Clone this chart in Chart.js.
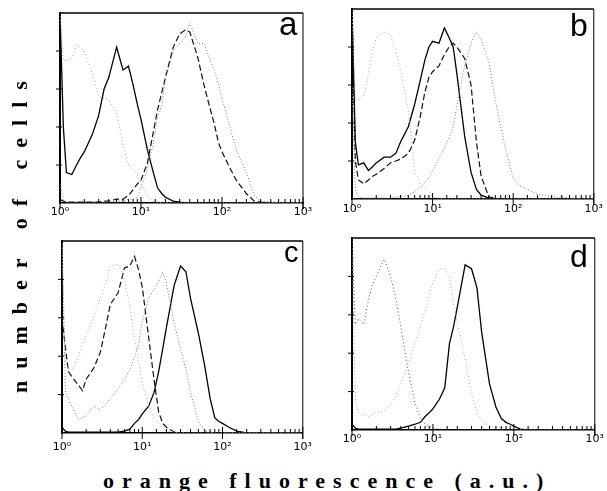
<!DOCTYPE html>
<html>
<head>
<meta charset="utf-8">
<script src="https://cdn.jsdelivr.net/npm/chart.js@4.4.0/dist/chart.umd.min.js"></script>
<style>
  html, body { margin: 0; padding: 0; background: #fff; }
  #wrap { position: relative; width: 607px; height: 491px; overflow: hidden; }
  canvas { position: absolute; }
  .letter { position: absolute; font-family: "Liberation Sans", Arial, sans-serif; line-height: 1; color: #000; }
  #ylab, #xlab {
    position: absolute; white-space: nowrap; color: #000;
    font-family: "Liberation Serif", "Times New Roman", serif; font-weight: bold;
    font-size: 22px; line-height: 22px;
  }
  #xlab { left: 103px; top: 470px; letter-spacing: 8px; }
  #ylab { left: 9px; top: 393px; letter-spacing: 12px; transform-origin: 0 0; transform: rotate(-90deg); }
</style>
</head>
<body>
<div id="wrap">
  <canvas id="pa" width="320" height="232" style="left:0;top:0"></canvas>
  <canvas id="pb" width="287" height="232" style="left:320px;top:0"></canvas>
  <canvas id="pc" width="320" height="228" style="left:0;top:232px"></canvas>
  <canvas id="pd" width="287" height="228" style="left:320px;top:232px"></canvas>
  <div class="letter" style="left:279px;top:7px;font-size:33px">a</div>
  <div class="letter" style="left:570px;top:9px;font-size:32px">b</div>
  <div class="letter" style="left:284px;top:238px;font-size:29px">c</div>
  <div class="letter" style="left:570px;top:240px;font-size:32px">d</div>
  <div id="ylab">number of cells</div>
  <div id="xlab">orange fluorescence (a.u.)</div>
</div>
<script>
// fluorescence channels (a.u.), shared by every histogram
const fluor = [1,1.1,1.2,1.4,1.6,1.8,2,2.5,3,3.5,4,5,6,7,8,9,10,12,14,16,18,20,25,30,35,40,50,60,70,80,90,100,120,150,200,250,300,400,500,700,1000];
const decades = [1, 10, 100, 1000];
const tickLabels = ['10\u2070', '10\u00b9', '10\u00b2', '10\u00b3'];

// panel a
const aDotLeft  = [100,75,75,76,83,82,80,68,56,55,54,48,30,20,18,15,10,4,1,0.5,0,0,0,0,0,0,0,0,0,0,0,0,0,0,0,0,0,0,0,0,0];
const aSolid    = [100,40,16,15,20,24,27,36,46,60,66,82,70,72,62,52,44,28,17,8,5,3,1,0.5,0,0,0,0,0,0,0,0,0,0,0,0,0,0,0,0,0];
const aDashed   = [2,1,0.5,0.5,0.5,0.5,0.5,0.5,0.5,1,1,2,2,4,7,10,12,21,36,49,58,66,82,89,91,90,77,62,51,42,32,27,20,12,5,1,0.5,0,0,0,0];
const aDotRight = [10,2,0.5,0.5,0.5,0.5,0.5,0.5,0.5,0.5,0.5,1,1,2,2,3,8,18,30,45,51,65,80,84,87,95,84,84,76,70,63,55,43,28,16,4,1,0.5,0,0,0];

// panel b
const bDotLeft  = [100,52,52,54,66,78,85,88,86,78,68,47,15,8,6,4,1,0.5,0,0,0,0,0,0,0,0,0,0,0,0,0,0,0,0,0,0,0,0,0,0,0];
const bSolid    = [100,30,18,19,15,17,19,22,22,24,30,38,50,62,73,80,83,82,90,85,80,66,33,14,5,2,0.5,0,0,0,0,0,0,0,0,0,0,0,0,0,0];
const bDashed   = [100,20,10,8,10,12,13,16,19,20,21,24,31,43,56,64,67,70,76,80,82,80,74,60,30,12,1,0.5,0,0,0,0,0,0,0,0,0,0,0,0,0];
const bDotRight = [60,5,1,0.5,0.5,0.5,0.5,0.5,0.5,1,1,2,4,6,9,11,15,21,27,32,38,49,70,82,88,84,72,52,38,27,18,11,7,5,2.5,2,1,1,0.5,0,0];

// panel c
const cDotLeft  = [100,38,33,34,40,46,51,61,70,78,87,88,80,66,49,38,26,14,8,5,3,1,0.5,0,0,0,0,0,0,0,0,0,0,0,0,0,0,0,0,0,0];
const cDashed   = [60,45,32,28,25,22,28,34,42,55,67,73,86,87,92,85,76,50,28,11,5,3,0.5,0,0,0,0,0,0,0,0,0,0,0,0,0,0,0,0,0,0];
const cDotMid   = [100,22,18,12,7,8,9,14,12,15,18,23,28,33,40,46,58,70,75,79,84,78,57,44,33,21,6,1,0.5,0,0,0,0,0,0,0,0,0,0,0,0];
const cSolid    = [3,1,0.5,0.5,0.5,0.5,0.5,0.5,0.5,0.5,0.5,0.5,1,2,5,7,10,14,21,32,44,55,77,87,84,70,52,35,18,8,6,5,3,1,0,0,0,0,0,0,0];

// panel d
const dDotLeft  = [100,55,58,55,68,76,80,89,80,68,54,30,14,6,3,2,1,0.5,0,0,0,0,0,0,0,0,0,0,0,0,0,0,0,0,0,0,0,0,0,0,0];
const dDotMid   = [100,15,9,8,7,8,9,10,13,18,24,35,45,54,62,70,77,84,84,80,66,56,37,19,9,5,2,2,1,1,0.5,0,0,0,0,0,0,0,0,0,0];
const dSolid    = [3,1,0.5,0.5,0.5,0.5,0.5,0.5,0.5,0.5,1,2,3,4,7,9,11,16,22,45,54,64,86,84,74,51,24,12,6,4,3,2,0.5,0,0,0,0,0,0,0,0];

// line looks
const SOLID  = { borderColor: '#000', borderWidth: 1.3, borderDash: [] };
const DASHED = { borderColor: '#111', borderWidth: 1.2, borderDash: [6, 3] };
const DOT    = { borderColor: '#808080', borderWidth: 1, borderDash: [1, 2] };
const DOT_LT = { borderColor: '#a8a8a8', borderWidth: 1, borderDash: [1, 2.5] };
const DOT_DK = { borderColor: '#555', borderWidth: 1, borderDash: [1, 2.5] };

// frame on top/right + little inner ticks like the cytometer printout
const framePlugin = {
  id: 'frame',
  afterDraw(chart) {
    const { ctx, chartArea: a, scales } = chart;
    ctx.save();
    ctx.strokeStyle = '#000';
    ctx.lineWidth = 1.5;
    ctx.beginPath();
    ctx.moveTo(a.left, a.top); ctx.lineTo(a.right, a.top);
    ctx.stroke();
    ctx.lineWidth = 1;
    ctx.beginPath();
    ctx.moveTo(a.right, a.top); ctx.lineTo(a.right, a.bottom + 6);
    ctx.stroke();
    // x ticks
    ctx.beginPath();
    scales.x.ticks.forEach(t => {
      const px = scales.x.getPixelForValue(t.value);
      const isDecade = decades.includes(t.value);
      ctx.moveTo(px, a.bottom + (isDecade ? 6 : 0));
      ctx.lineTo(px, a.bottom - (isDecade ? 6 : 4));
    });
    // y ticks
    [20, 40, 60, 80].forEach(v => {
      const py = scales.y.getPixelForValue(v);
      ctx.moveTo(a.left - 4, py);
      ctx.lineTo(a.left + 2, py);
    });
    ctx.stroke();
    ctx.restore();
  }
};

function makePanel(id, series, box) {
  const datasets = series.map(([vals, look]) => Object.assign({
    data: fluor.map((x, i) => ({ x: x, y: vals[i] })),
    pointRadius: 0,
    tension: 0,
    fill: false
  }, look));

  new Chart(document.getElementById(id), {
    type: 'line',
    data: { datasets },
    options: {
      responsive: false,
      animation: false,
      devicePixelRatio: 1,
      layout: { padding: { left: 0, top: box.top, right: box.right, bottom: box.bottom } },
      plugins: { legend: { display: false }, tooltip: { enabled: false } },
      scales: {
        x: {
          type: 'logarithmic',
          min: 1, max: 1000,
          grid: { display: false, drawTicks: false },
          border: { display: true, color: '#000', width: 1.5 },
          ticks: {
            autoSkip: false, maxRotation: 0, padding: box.pad,
            color: '#000', font: { family: 'DejaVu Sans', size: 11 },
            callback: v => {
              const k = decades.indexOf(v);
              return k >= 0 ? tickLabels[k] : '';
            }
          },
          afterFit: s => { s.height = 22; }
        },
        y: {
          min: 0, max: 100,
          grid: { display: false, drawTicks: false },
          border: { display: true, color: '#000', width: 2 },
          ticks: { display: false, stepSize: 20 },
          afterFit: s => { s.width = box.yw; }
        }
      }
    },
    plugins: [framePlugin]
  });
}

makePanel('pa', [[aDotLeft, DOT_LT], [aDotRight, DOT], [aDashed, DASHED], [aSolid, SOLID]],
  { yw: 60, top: 13, right: 17, bottom: 7, pad: 3 });
makePanel('pb', [[bDotLeft, DOT_LT], [bDotRight, DOT], [bDashed, DASHED], [bSolid, SOLID]],
  { yw: 32, top: 9, right: 11, bottom: 11, pad: 4 });
makePanel('pc', [[cDotLeft, DOT_LT], [cDotMid, DOT], [cDashed, DASHED], [cSolid, SOLID]],
  { yw: 62, top: 9, right: 16, bottom: 5, pad: 8 });
makePanel('pd', [[dDotLeft, DOT_DK], [dDotMid, DOT_LT], [dSolid, SOLID]],
  { yw: 32, top: 6, right: 12, bottom: 8, pad: 3 });
</script>
</body>
</html>
